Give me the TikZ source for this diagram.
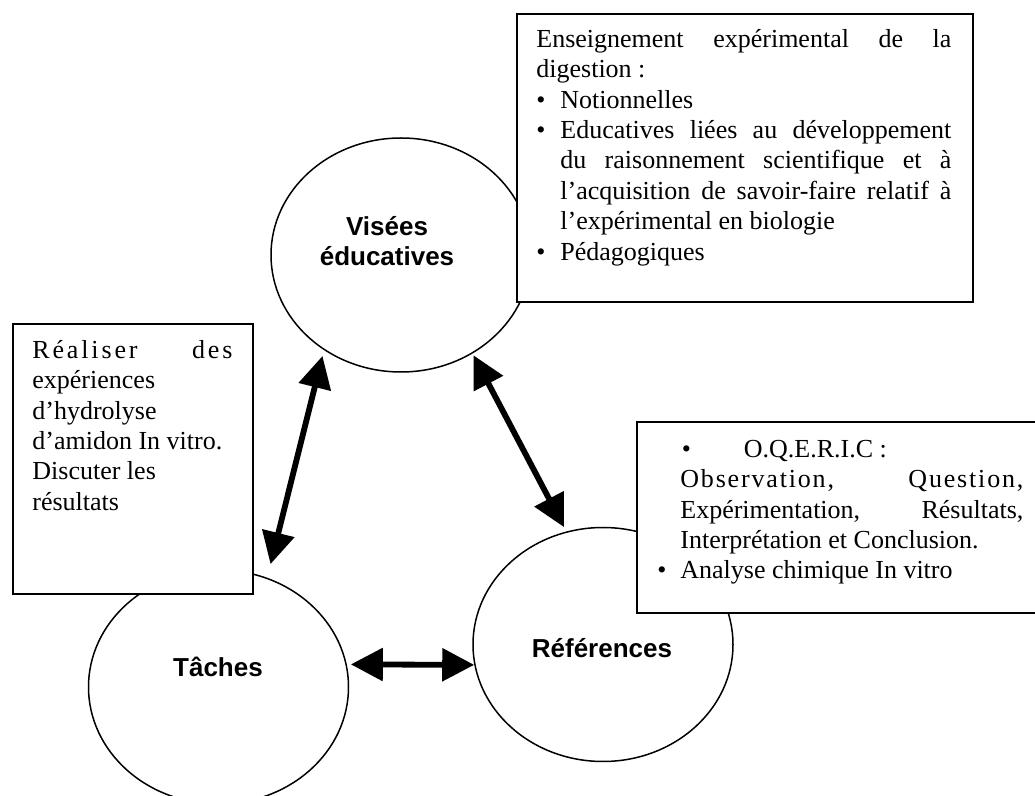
\documentclass[tikz,border=0pt]{standalone}
\usepackage{fontspec}
\setmainfont{Liberation Serif}
\setsansfont{Liberation Sans}
\usetikzlibrary{shapes.geometric,arrows.meta}

\begin{document}
\begin{tikzpicture}[x=0.5pt, y=-0.5pt,
        bulle/.style={ellipse, draw, line width=0.75pt, minimum width=130pt, minimum height=117pt, inner sep=0pt},
        cadre/.style={rectangle, draw, fill=white, line width=1pt, inner sep=0pt, anchor=north west},
        texte/.style={anchor=north west, inner sep=0pt, align=left, font=\fontsize{13}{15.2}\selectfont},
        titre/.style={inner sep=0pt, align=center, font=\sffamily\bfseries\fontsize{13}{15}\selectfont},
        fleche/.style={{Triangle[length=16pt,width=16pt]}-{Triangle[length=16pt,width=16pt]}, line width=2.9pt}]
        \clip (0,0) rectangle (1035,796);

        \node[bulle] (visees) at (401,255) {};
        \node[bulle] (taches) at (218.5,687) {};
        \node[bulle] (refs) at (603,644.5) {};

        \node[cadre, minimum width=228pt, minimum height=144pt] (cadre-visees) at (516,13) {};
        \node[cadre, minimum width=120pt, minimum height=135pt] (cadre-taches) at (12,323) {};
        \node[cadre, minimum width=205pt, minimum height=95.5pt] (cadre-refs) at (636,421) {};

        \node[titre, anchor=north] (titre-visees) at (387,214) {\strut Visées\\éducatives};
        \node[titre, anchor=base] (titre-taches) at (218,677) {Tâches};
        \node[titre, anchor=base] (titre-refs) at (602,658) {Références};

        \node[texte] (texte-visees) at (536,25.7) {\strut\makebox[207.5pt][s]{Enseignement expérimental de la}\\
                digestion :\\
                \makebox[12pt][l]{\textbullet}Notionnelles\\
                \makebox[12pt][l]{\textbullet}\makebox[195.5pt][s]{Educatives liées au développement}\\
                \hspace*{12pt}\makebox[195.5pt][s]{du raisonnement scientifique et à}\\
                \hspace*{12pt}\makebox[195.5pt][s]{l’acquisition de savoir-faire relatif à}\\
                \hspace*{12pt}l’expérimental en biologie\\
                \makebox[12pt][l]{\textbullet}Pédagogiques};
        \node[texte] (texte-taches) at (32,336.7) {\strut\makebox[100pt][s]{\addfontfeature{LetterSpace=11}Réaliser des}\\
                expériences\\
                d’hydrolyse\\
                d’amidon In vitro.\\
                Discuter les\\
                résultats};
        \node[texte] (texte-refs) at (657,435.7) {\strut\hspace*{12.25pt}\makebox[31pt][l]{\textbullet}O.Q.E.R.I.C :\\
                \hspace*{11.5pt}\makebox[171.5pt][s]{\addfontfeature{LetterSpace=7}Observation, Question,}\\
                \hspace*{11.5pt}\makebox[171.5pt][s]{Expérimentation, Résultats,}\\
                \hspace*{11.5pt}Interprétation et Conclusion.\\
                \makebox[11.5pt][l]{\textbullet}Analyse chimique In vitro};

        \draw[fleche, shorten <=7pt, shorten >=3pt] (taches.66) -- (visees.231);
        \draw[fleche, shorten <=1pt, shorten >=2.5pt] (visees.306) -- (refs.108);
        \draw[fleche, shorten <=2pt] (taches.10) -- (refs.189);
\end{tikzpicture}
\end{document}
